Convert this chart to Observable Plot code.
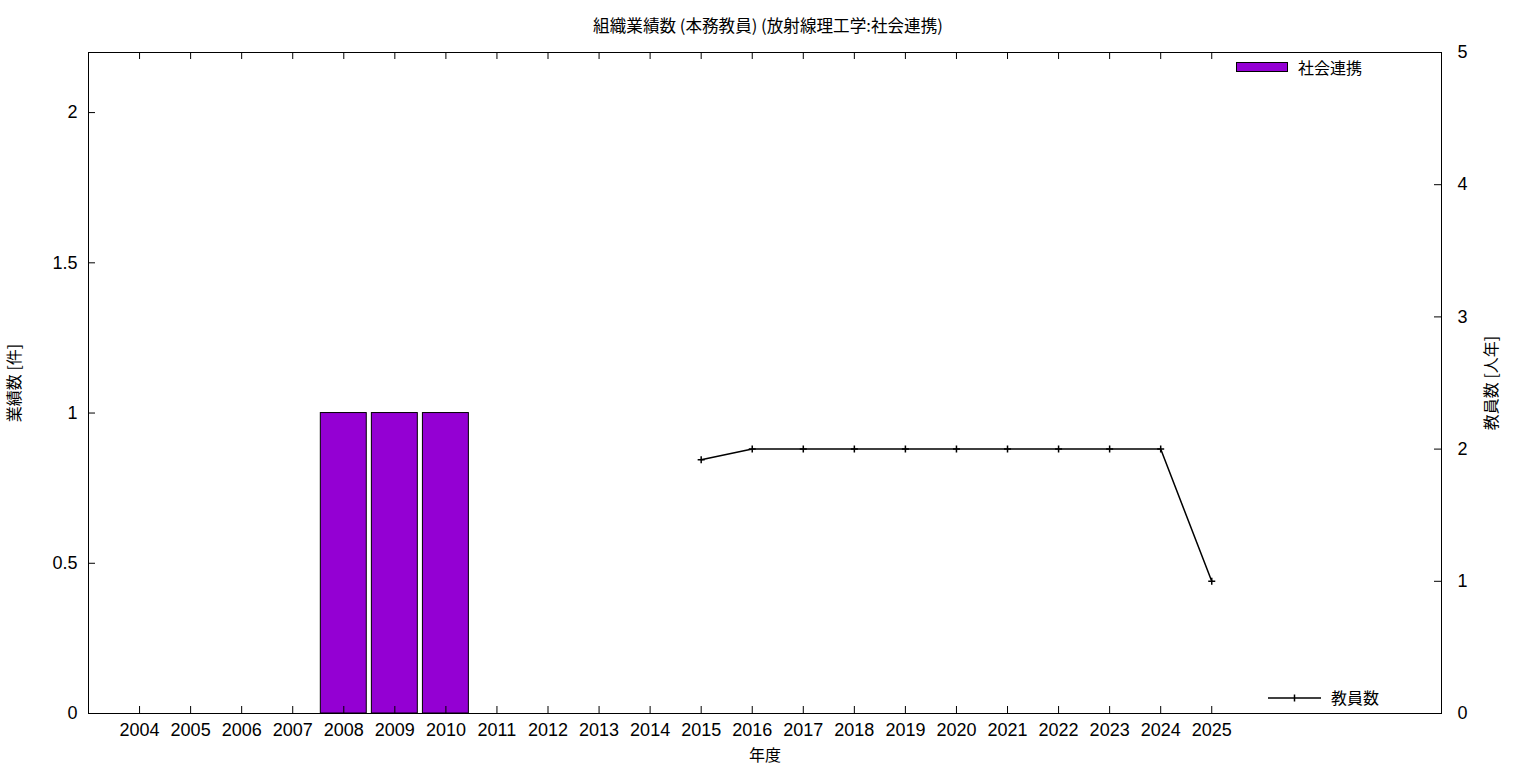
<!DOCTYPE html>
<html>
<head>
<meta charset="utf-8">
<script src="https://cdn.jsdelivr.net/npm/d3@7"></script>
<script src="https://cdn.jsdelivr.net/npm/@observablehq/plot@0.6"></script>
<style>
  body { margin: 0; background: #fff; }
  #wrap { position: relative; width: 1536px; height: 768px; font-family: "Liberation Sans", "Noto Sans CJK JP", sans-serif; color: #000; }
  #title { height: 40px; box-sizing: border-box; padding-top: 16px; text-align: center; font-size: 16.6px; line-height: 18px; font-family: "Noto Sans CJK JP", sans-serif; }
  .leg { position: absolute; font-size: 16px; line-height: 18px; font-family: "Noto Sans CJK JP", sans-serif; }
</style>
</head>
<body>
<div id="wrap">
  <div id="title">組織業績数 (本務教員) (放射線理工学:社会連携)</div>
  <div id="chart"></div>
  <div class="leg" style="left:1236px; top:62px; width:50px; height:8px; background:#9400D3; border:1px solid #000;"></div>
  <div class="leg" style="left:1298px; top:58px;">社会連携</div>
  <svg class="leg" style="left:1266px; top:690px;" width="58" height="16">
    <line x1="2" y1="8" x2="55" y2="8" stroke="#000" stroke-width="1.5"/>
    <line x1="28.5" y1="4.5" x2="28.5" y2="11.5" stroke="#000" stroke-width="1.5"/>
  </svg>
  <div class="leg" style="left:1331px; top:688px;">教員数</div>
</div>
<script>
const years = [2004,2005,2006,2007,2008,2009,2010,2011,2012,2013,2014,2015,2016,2017,2018,2019,2020,2021,2022,2023,2024,2025];
const outreach = [0,0,0,0,1,1,1,0,0,0,0,0,0,0,0,0,0,0,0,0,0,0];
const teachers = [null,null,null,null,null,null,null,null,null,null,null,1.92,2,2,2,2,2,2,2,2,2,1];
const yTicks = [0, 0.5, 1, 1.5, 2];
const y2Ticks = [0, 1, 2, 3, 4, 5];
const yMax = 2.2, y2Max = 5;
const k = yMax / y2Max;

const W = 1536, H = 728, mL = 88, mR = 95, mT = 12, mB = 55;
const frameW = W - mL - mR, frameH = H - mT - mB;

const bars = years.map((y, i) => ({year: y, value: outreach[i]})).filter(d => d.value > 0);
const line = years.map((y, i) => ({year: y, value: teachers[i]})).filter(d => d.value != null);

const cjk = "'Noto Sans CJK JP', sans-serif";
const chart = Plot.plot({
  width: W, height: H,
  marginLeft: mL, marginRight: mR, marginTop: mT, marginBottom: mB,
  style: {fontFamily: "'Liberation Sans', 'Noto Sans CJK JP', sans-serif", fontSize: "18px", color: "#000", background: "#fff"},
  x: {type: "linear", domain: [2003, 2029.5]},
  y: {domain: [0, yMax]},
  marks: [
    Plot.rectY(bars, {x1: d => d.year - 0.45, x2: d => d.year + 0.45, y1: 0, y2: "value", fill: "#9400D3", stroke: "#000", strokeWidth: 1}),
    Plot.line(line, {x: "year", y: d => d.value * k, stroke: "#000", strokeWidth: 1.5}),
    Plot.dot(line, {x: "year", y: d => d.value * k, symbol: "plus", r: 2.4, stroke: "#000", strokeWidth: 1.5}),
    Plot.frame({stroke: "#000", strokeWidth: 1}),
    Plot.axisX({ticks: years, tickFormat: d => String(d), tickSize: 0, tickPadding: 10, label: null}),
    Plot.tickX(years, {x: d => d, insetTop: frameH - 7, stroke: "#000"}),
    Plot.tickX(years, {x: d => d, insetBottom: frameH - 7, stroke: "#000"}),
    Plot.axisY({ticks: yTicks, tickFormat: d => String(d), tickSize: 0, tickPadding: 11, label: null}),
    Plot.tickY(yTicks, {y: d => d, insetRight: frameW - 7, stroke: "#000"}),
    Plot.axisY({anchor: "right", ticks: y2Ticks.map(v => v * k), tickFormat: d => String(Math.round(d / k)), tickSize: 0, tickPadding: 16, label: null}),
    Plot.tickY(y2Ticks.map(v => v * k), {y: d => d, insetLeft: frameW - 7, stroke: "#000"}),
    Plot.text(["業績数 [件]"], {frameAnchor: "left", dx: -74, rotate: -90, textAnchor: "middle", lineAnchor: "middle", fontSize: 16, fontFamily: cjk}),
    Plot.text(["教員数 [人年]"], {frameAnchor: "right", dx: 50, rotate: -90, textAnchor: "middle", lineAnchor: "middle", fontSize: 16, fontFamily: cjk}),
    Plot.text(["年度"], {frameAnchor: "bottom", dy: 42, lineAnchor: "middle", fontSize: 16, fontFamily: cjk})
  ]
});
document.getElementById("chart").appendChild(chart);
</script>
</body>
</html>
